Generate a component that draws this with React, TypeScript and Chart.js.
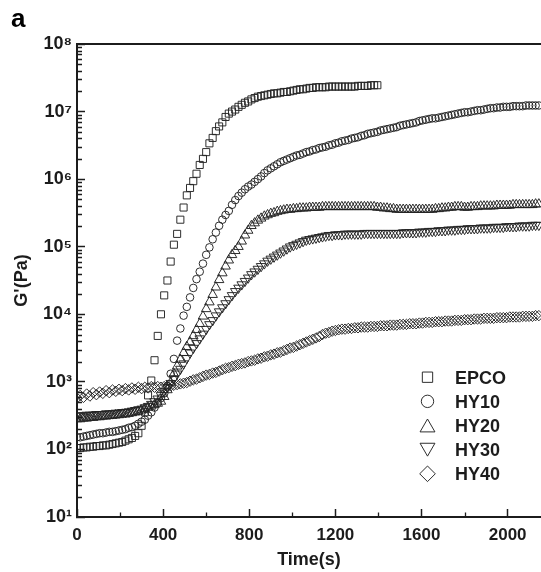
import React, { useEffect, useRef } from 'react';
import { Chart, registerables } from 'chart.js';
import { drawPoint } from 'chart.js/helpers';

Chart.register(...registerables);

// ---- data (time in s, G' read as log10(Pa)) ----
const timeS = [
  0, 15, 30, 45, 60, 75, 90, 105, 120, 135,
  150, 165, 180, 195, 210, 225, 240, 255, 270, 285,
  300, 315, 330, 345, 360, 375, 390, 405, 420, 435,
  450, 465, 480, 495, 510, 525, 540, 555, 570, 585,
  600, 615, 630, 645, 660, 675, 690, 705, 720, 735,
  750, 765, 780, 795, 810, 825, 840, 855, 870, 885,
  900, 915, 930, 945, 960, 975, 990, 1005, 1020, 1035,
  1050, 1065, 1080, 1095, 1110, 1125, 1140, 1155, 1170, 1185,
  1200, 1215, 1230, 1245, 1260, 1275, 1290, 1305, 1320, 1335,
  1350, 1365, 1380, 1395, 1410, 1425, 1440, 1455, 1470, 1485,
  1500, 1515, 1530, 1545, 1560, 1575, 1590, 1605, 1620, 1635,
  1650, 1665, 1680, 1695, 1710, 1725, 1740, 1755, 1770, 1785,
  1800, 1815, 1830, 1845, 1860, 1875, 1890, 1905, 1920, 1935,
  1950, 1965, 1980, 1995, 2010, 2025, 2040, 2055, 2070, 2085,
  2100, 2115, 2130, 2145,
];

const epcoLogG = [
  2.02, 2.02, 2.03, 2.03, 2.04, 2.04, 2.05, 2.05, 2.06, 2.06,
  2.07, 2.08, 2.09, 2.10, 2.11, 2.13, 2.15, 2.17, 2.20, 2.24,
  2.35, 2.55, 2.80, 3.02, 3.32, 3.68, 4.00, 4.28, 4.50, 4.78,
  5.03, 5.19, 5.40, 5.58, 5.76, 5.87, 5.97, 6.08, 6.21, 6.30,
  6.40, 6.53, 6.61, 6.71, 6.78, 6.84, 6.92, 6.97, 7.00, 7.03,
  7.07, 7.10, 7.13, 7.15, 7.18, 7.20, 7.22, 7.23, 7.24, 7.25,
  7.26, 7.27, 7.27, 7.28, 7.29, 7.29, 7.30, 7.31, 7.32, 7.33,
  7.33, 7.34, 7.35, 7.35, 7.36, 7.36, 7.36, 7.36, 7.37, 7.37,
  7.37, 7.37, 7.37, 7.37, 7.37, 7.37, 7.37, 7.38, 7.38, 7.38,
  7.38, 7.39, 7.39, 7.39,
];

const hy10LogG = [
  2.18, 2.18, 2.19, 2.20, 2.21, 2.22, 2.23, 2.24, 2.24, 2.25,
  2.26, 2.26, 2.27, 2.28, 2.29, 2.30, 2.32, 2.33, 2.35, 2.38,
  2.41, 2.44, 2.50, 2.55, 2.62, 2.69, 2.76, 2.83, 2.94, 3.12,
  3.34, 3.61, 3.79, 3.98, 4.11, 4.25, 4.39, 4.52, 4.63, 4.75,
  4.88, 4.99, 5.11, 5.21, 5.31, 5.40, 5.47, 5.53, 5.62, 5.69,
  5.75, 5.80, 5.85, 5.89, 5.92, 5.96, 6.00, 6.04, 6.09, 6.13,
  6.16, 6.19, 6.22, 6.25, 6.27, 6.29, 6.31, 6.33, 6.35, 6.36,
  6.38, 6.40, 6.41, 6.43, 6.44, 6.46, 6.47, 6.48, 6.50, 6.51,
  6.53, 6.54, 6.56, 6.57, 6.58, 6.60, 6.61, 6.62, 6.64, 6.65,
  6.67, 6.68, 6.69, 6.70, 6.72, 6.73, 6.74, 6.75, 6.76, 6.77,
  6.79, 6.80, 6.81, 6.82, 6.83, 6.84, 6.86, 6.87, 6.88, 6.89,
  6.90, 6.90, 6.91, 6.92, 6.93, 6.94, 6.95, 6.96, 6.97, 6.98,
  6.99, 6.99, 7.00, 7.01, 7.02, 7.02, 7.03, 7.04, 7.05, 7.05,
  7.06, 7.06, 7.07, 7.07, 7.07, 7.08, 7.08, 7.08, 7.08, 7.09,
  7.09, 7.09, 7.09, 7.09,
];

const hy20LogG = [
  2.45, 2.45, 2.46, 2.46, 2.47, 2.47, 2.48, 2.48, 2.49, 2.49,
  2.50, 2.50, 2.51, 2.51, 2.52, 2.52, 2.53, 2.54, 2.55, 2.56,
  2.58, 2.60, 2.62, 2.64, 2.66, 2.68, 2.71, 2.78, 2.88, 2.99,
  3.12, 3.23, 3.33, 3.43, 3.52, 3.59, 3.68, 3.77, 3.86, 3.97,
  4.08, 4.18, 4.29, 4.40, 4.51, 4.61, 4.71, 4.80, 4.88, 4.94,
  5.00, 5.08, 5.17, 5.24, 5.31, 5.35, 5.39, 5.42, 5.45, 5.47,
  5.49, 5.50, 5.52, 5.53, 5.54, 5.55, 5.55, 5.56, 5.56, 5.57,
  5.57, 5.57, 5.58, 5.58, 5.58, 5.58, 5.59, 5.59, 5.59, 5.59,
  5.59, 5.59, 5.59, 5.59, 5.59, 5.59, 5.59, 5.59, 5.59, 5.59,
  5.59, 5.59, 5.59, 5.58, 5.58, 5.57, 5.57, 5.56, 5.56, 5.55,
  5.55, 5.55, 5.55, 5.55, 5.55, 5.55, 5.55, 5.55, 5.55, 5.55,
  5.55, 5.56, 5.56, 5.57, 5.57, 5.58, 5.58, 5.59, 5.59, 5.59,
  5.58, 5.58, 5.59, 5.59, 5.59, 5.60, 5.60, 5.60, 5.60, 5.60,
  5.61, 5.61, 5.61, 5.61, 5.61, 5.62, 5.62, 5.62, 5.62, 5.62,
  5.62, 5.62, 5.63, 5.63,
];

const hy30LogG = [
  2.50, 2.50, 2.50, 2.51, 2.51, 2.51, 2.52, 2.52, 2.52, 2.53,
  2.53, 2.53, 2.54, 2.54, 2.55, 2.55, 2.56, 2.57, 2.58, 2.59,
  2.60, 2.62, 2.64, 2.67, 2.71, 2.75, 2.80, 2.86, 2.92, 2.98,
  3.05, 3.12, 3.19, 3.27, 3.35, 3.43, 3.50, 3.57, 3.64, 3.71,
  3.78, 3.85, 3.91, 3.98, 4.04, 4.10, 4.16, 4.22, 4.28, 4.34,
  4.39, 4.44, 4.49, 4.54, 4.59, 4.63, 4.67, 4.71, 4.75, 4.79,
  4.82, 4.85, 4.88, 4.91, 4.94, 4.97, 5.00, 5.02, 5.04, 5.06,
  5.08, 5.10, 5.11, 5.12, 5.13, 5.14, 5.15, 5.16, 5.17, 5.17,
  5.18, 5.18, 5.18, 5.19, 5.19, 5.19, 5.19, 5.19, 5.19, 5.20,
  5.20, 5.20, 5.20, 5.20, 5.20, 5.20, 5.20, 5.20, 5.20, 5.20,
  5.20, 5.21, 5.21, 5.21, 5.21, 5.21, 5.22, 5.22, 5.22, 5.23,
  5.23, 5.23, 5.24, 5.24, 5.24, 5.25, 5.25, 5.25, 5.26, 5.26,
  5.26, 5.27, 5.27, 5.27, 5.27, 5.28, 5.28, 5.28, 5.28, 5.29,
  5.29, 5.29, 5.29, 5.30, 5.30, 5.30, 5.30, 5.31, 5.31, 5.31,
  5.31, 5.32, 5.32, 5.32,
];

const hy40LogG = [
  2.76, 2.80, 2.77, 2.82, 2.79, 2.84, 2.81, 2.85, 2.83, 2.87,
  2.84, 2.88, 2.86, 2.89, 2.87, 2.90, 2.88, 2.91, 2.89, 2.92,
  2.90, 2.92, 2.91, 2.93, 2.92, 2.93, 2.92, 2.93, 2.93, 2.94,
  2.95, 2.96, 2.97, 2.98, 2.99, 3.01, 3.03, 3.04, 3.06, 3.08,
  3.10, 3.11, 3.13, 3.14, 3.16, 3.18, 3.20, 3.21, 3.23, 3.24,
  3.26, 3.27, 3.28, 3.30, 3.31, 3.32, 3.34, 3.35, 3.37, 3.38,
  3.40, 3.41, 3.43, 3.44, 3.46, 3.48, 3.50, 3.51, 3.53, 3.55,
  3.57, 3.59, 3.61, 3.63, 3.65, 3.67, 3.70, 3.72, 3.73, 3.75,
  3.76, 3.77, 3.78, 3.78, 3.79, 3.79, 3.80, 3.80, 3.81, 3.81,
  3.81, 3.82, 3.82, 3.82, 3.83, 3.83, 3.83, 3.84, 3.84, 3.84,
  3.85, 3.85, 3.85, 3.86, 3.86, 3.86, 3.87, 3.87, 3.88, 3.88,
  3.88, 3.89, 3.89, 3.89, 3.90, 3.90, 3.90, 3.91, 3.91, 3.91,
  3.92, 3.92, 3.92, 3.93, 3.93, 3.93, 3.94, 3.94, 3.94, 3.94,
  3.95, 3.95, 3.95, 3.95, 3.96, 3.96, 3.96, 3.96, 3.97, 3.97,
  3.97, 3.97, 3.98, 3.98,
];

const seriesNames = ['EPCO', 'HY10', 'HY20', 'HY30', 'HY40'];
const xTickValues = [0, 400, 800, 1200, 1600, 2000];
const xMinorTickValues = [200, 600, 1000, 1400, 1800];
const yTickValues = [1e1, 1e2, 1e3, 1e4, 1e5, 1e6, 1e7, 1e8];
const yTickLabels = ['10¹', '10²', '10³', '10⁴', '10⁵', '10⁶', '10⁷', '10⁸'];
const yMinorMultipliers = [2, 3, 4, 5, 6, 7, 8, 9];
const xTitle = 'Time(s)';
const yTitle = "G'(Pa)";
const panelLabel = 'a';

// ---- styling ----
const W = 541;
const H = 572;
const FONT = '"Liberation Sans", Arial, Helvetica, sans-serif';
const INK = '#1c1c1c';
const MARK = 'rgba(35,35,35,0.95)';

const markerStyles = [
  { style: 'rect', radius: 5, rotation: 0, legendRadius: 7.3, legendDy: 0 },
  { style: 'circle', radius: 3.8, rotation: 0, legendRadius: 6.2, legendDy: 0 },
  { style: 'triangle', radius: 5.5, rotation: 0, legendRadius: 8.6, legendDy: 2.1 },
  { style: 'triangle', radius: 5.5, rotation: 180, legendRadius: 8.6, legendDy: -2.1 },
  { style: 'rectRot', radius: 5.2, rotation: 0, legendRadius: 7.8, legendDy: 0 },
];

const allSeries = [epcoLogG, hy10LogG, hy20LogG, hy30LogG, hy40LogG];

const toPoints = (logs: number[]) =>
  logs.map((lg, i) => ({ x: timeS[i], y: Math.pow(10, lg) }));

const extrasPlugin = {
  id: 'extras',
  afterDraw(chart: any) {
    const ctx = chart.ctx as CanvasRenderingContext2D;
    const xs = chart.scales.x;
    const ys = chart.scales.y;
    const area = chart.chartArea;
    ctx.save();
    // minor ticks (inward)
    ctx.strokeStyle = INK;
    ctx.lineWidth = 1.3;
    ctx.beginPath();
    xMinorTickValues.forEach((v) => {
      const px = Math.round(xs.getPixelForValue(v)) + 0.5;
      ctx.moveTo(px, area.bottom);
      ctx.lineTo(px, area.bottom - 4.5);
    });
    yTickValues.slice(0, -1).forEach((dec) => {
      yMinorMultipliers.forEach((m) => {
        const py = Math.round(ys.getPixelForValue(dec * m)) + 0.5;
        ctx.moveTo(area.left, py);
        ctx.lineTo(area.left + 5, py);
      });
    });
    ctx.stroke();

    // panel label
    ctx.fillStyle = '#000';
    ctx.font = `bold 26px ${FONT}`;
    ctx.textAlign = 'left';
    ctx.textBaseline = 'alphabetic';
    ctx.fillText(panelLabel, 11, 27);

    // legend inside plot
    const markX = 427.5;
    const textX = 455;
    const firstBase = 383.5;
    const gap = 24.15;
    ctx.font = `bold 18px ${FONT}`;
    seriesNames.forEach((name, i) => {
      const base = firstBase + i * gap;
      ctx.fillStyle = INK;
      ctx.fillText(name, textX, base);
      const st = markerStyles[i];
      ctx.save();
      ctx.strokeStyle = MARK;
      ctx.fillStyle = 'rgba(0,0,0,0)';
      ctx.lineWidth = 1;
      drawPoint(
        ctx,
        { pointStyle: st.style as any, radius: st.legendRadius, rotation: st.rotation, borderWidth: 1 },
        markX,
        base - 6.3 + st.legendDy
      );
      ctx.restore();
    });
    ctx.restore();
  },
};

export default function App() {
  const ref = useRef<HTMLCanvasElement>(null);

  useEffect(() => {
    document.body.style.margin = '0';
    const canvas = ref.current;
    if (!canvas) return;

    const datasets = allSeries.map((logs, i) => ({
      label: seriesNames[i],
      data: toPoints(logs),
      showLine: false,
      pointStyle: markerStyles[i].style as any,
      pointRadius: markerStyles[i].radius,
      pointHoverRadius: markerStyles[i].radius,
      pointRotation: markerStyles[i].rotation,
      pointBorderColor: MARK,
      pointBackgroundColor: 'rgba(0,0,0,0)',
      pointBorderWidth: 1,
      borderColor: MARK,
      backgroundColor: 'rgba(0,0,0,0)',
    }));

    const xTickFont = { family: FONT, size: 17, weight: 'bold' as const };
    const yTickFont = { family: FONT, size: 18, weight: 'bold' as const };
    const titleFont = { family: FONT, size: 18, weight: 'bold' as const };

    const chart = new Chart(canvas, {
      type: 'scatter',
      data: { datasets },
      options: {
        responsive: false,
        maintainAspectRatio: false,
        animation: false,
        devicePixelRatio: 1,
        events: [],
        layout: { autoPadding: false, padding: { left: 0, right: 0, top: 44, bottom: 0 } },
        plugins: {
          legend: { display: false },
          tooltip: { enabled: false },
          title: { display: false },
        },
        scales: {
          x: {
            type: 'linear',
            position: 'bottom',
            min: 0,
            max: 2155,
            afterBuildTicks: (s: any) => {
              s.ticks = xTickValues.map((v) => ({ value: v }));
            },
            afterFit: (s: any) => {
              s.height = 55;
              s.paddingLeft = 0;
              s.paddingRight = 0;
            },
            ticks: {
              padding: 16,
              color: INK,
              font: xTickFont,
              maxRotation: 0,
              autoSkip: false,
              includeBounds: false,
              callback: (v: any) => String(v),
            },
            grid: {
              drawOnChartArea: false,
              drawTicks: true,
              tickLength: -8,
              tickWidth: 1.5,
              tickColor: INK,
            },
            border: { display: true, color: INK, width: 2 },
            title: {
              display: true,
              text: xTitle,
              color: INK,
              font: titleFont,
              padding: { top: 0, bottom: 1 },
            },
          },
          y: {
            type: 'logarithmic',
            position: 'left',
            min: 10,
            max: 1e8,
            afterBuildTicks: (s: any) => {
              s.ticks = yTickValues.map((v) => ({ value: v }));
            },
            afterFit: (s: any) => {
              s.width = 77;
            },
            ticks: {
              padding: 13,
              color: INK,
              font: yTickFont,
              autoSkip: false,
              callback: (v: any) => {
                const idx = yTickValues.indexOf(Number(v));
                return idx >= 0 ? yTickLabels[idx] : '';
              },
            },
            grid: {
              drawOnChartArea: false,
              drawTicks: true,
              tickLength: -8,
              tickWidth: 1.5,
              tickColor: INK,
            },
            border: { display: true, color: INK, width: 2 },
            title: {
              display: true,
              text: yTitle,
              color: INK,
              font: titleFont,
              padding: { top: 11, bottom: 0 },
            },
          },
          xTop: {
            type: 'linear',
            position: 'top',
            display: true,
            ticks: { display: false },
            grid: { display: false, drawTicks: false, drawOnChartArea: false },
            border: { display: true, color: INK, width: 2 },
            afterFit: (s: any) => {
              s.paddingLeft = 0;
              s.paddingRight = 0;
            },
          },
        },
      } as any,
      plugins: [extrasPlugin],
    });

    return () => chart.destroy();
  }, []);

  return (
    <div style={{ position: 'fixed', left: 0, top: 0, width: W, height: H, background: '#fff' }}>
      <canvas ref={ref} width={W} height={H} style={{ display: 'block', width: W, height: H }} />
    </div>
  );
}
